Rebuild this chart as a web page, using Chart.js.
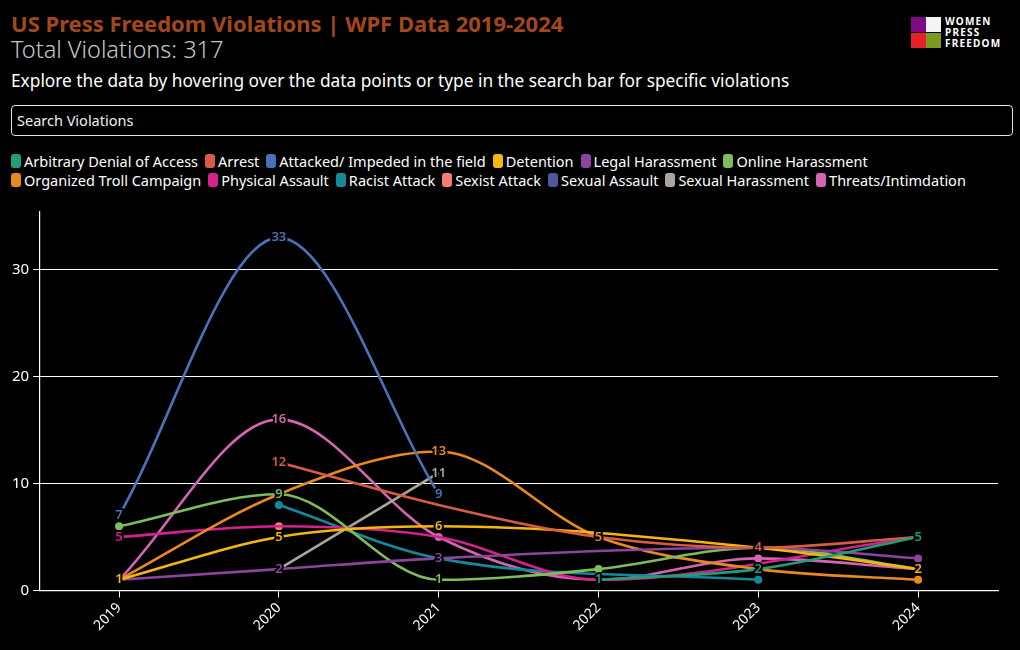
<!DOCTYPE html>
<html>
<head>
<meta charset="utf-8">
<script src="https://cdn.jsdelivr.net/npm/chart.js@4.4.1/dist/chart.umd.min.js"></script>
<style>
  html, body { margin:0; padding:0; background:#000; width:1020px; height:650px; overflow:hidden; font-family:"Noto Sans", sans-serif; }
  #title { position:absolute; left:11px; top:8px; font-size:22px; font-weight:700; color:#a3481c; white-space:nowrap; }
  #total { position:absolute; left:11px; top:33px; font-size:23.5px; font-weight:300; color:#c9c9c9; white-space:nowrap; }
  #explore { position:absolute; left:11px; top:69px; font-size:17.3px; color:#fff; white-space:nowrap; }
  #search { position:absolute; left:11px; top:105px; width:995px; height:29px; border:1.5px solid #e6e6e6; border-radius:4px; color:#f0f0f0; font-size:14.5px; line-height:29px; padding-left:5px; box-sizing:content-box; }
  #legend { position:absolute; left:11px; top:151px; width:1000px; display:flex; flex-wrap:wrap; column-gap:7px; row-gap:0px; }
  .li { display:flex; align-items:center; font-size:14.5px; color:#fff; height:19px; white-space:nowrap; }
  .sw { width:10px; height:14px; border-radius:3px; margin-right:3px; }
  #logo { position:absolute; left:911px; top:17px; }
  .sq { position:absolute; width:15px; height:15px; }
  .lt { position:absolute; left:34px; font-size:10px; font-weight:700; color:#fff; letter-spacing:1.2px; line-height:11px; white-space:nowrap; }
  #wrap { position:absolute; left:0; top:195px; width:1020px; height:455px; }
</style>
</head>
<body>
<div id="title">US Press Freedom Violations | WPF Data 2019-2024</div>
<div id="total">Total Violations: 317</div>
<div id="explore">Explore the data by hovering over the data points or type in the search bar for specific violations</div>
<div id="search">Search Violations</div>
<div id="logo">
  <div class="sq" style="left:0;top:0;background:#7e0b86"></div>
  <div class="sq" style="left:15px;top:0;background:#f4f4f4"></div>
  <div class="sq" style="left:0;top:16px;background:#e8202a"></div>
  <div class="sq" style="left:15px;top:16px;background:#7a9a1c"></div>
  <div class="lt" style="top:-1px">WOMEN</div>
  <div class="lt" style="top:10px">PRESS</div>
  <div class="lt" style="top:21px">FREEDOM</div>
</div>
<div id="legend"></div>
<div id="wrap"><canvas id="c"></canvas></div>
<script>
// ---- data ----
const years = ['2019','2020','2021','2022','2023','2024'];
const seriesNames = ['Arbitrary Denial of Access','Arrest','Attacked/ Impeded in the field','Detention','Legal Harassment','Online Harassment','Organized Troll Campaign','Physical Assault','Racist Attack','Sexist Attack','Sexual Assault','Sexual Harassment','Threats/Intimdation'];
const seriesColors = ['#1f9e78','#d75b45','#4a72b8','#f5b70c','#8d449f','#7dbd5b','#ea891f','#d3218e','#13899a','#f47c73','#5055a0','#a7a89b','#d565b3'];
const arbitraryDenial   = [null, null, null, 1, 2, 5];
const arrest            = [null, 12, 8, 5, 4, 5];
const attackedImpeded   = [7, 33, 9, null, null, null];
const detention         = [1, 5, 6, null, 4, 2];
const legalHarassment   = [1, 2, 3, null, 4, 3];
const onlineHarassment  = [6, 9, 1, 2, 4, 2];
const trollCampaign     = [1, 9, 13, 5, 2, 1];
const physicalAssault   = [5, 6, 5, 1, null, 5];
const racistAttack      = [null, 8, 3, null, 1, null];
const sexistAttack      = [null, 6, null, null, null, null];
const sexualAssault     = [null, null, null, null, null, null];
const sexualHarassment  = [null, 2, 11, null, null, null];
const threats           = [1, 16, 5, 1, 3, 2];
const seriesValues = [arbitraryDenial, arrest, attackedImpeded, detention, legalHarassment, onlineHarassment, trollCampaign, physicalAssault, racistAttack, sexistAttack, sexualAssault, sexualHarassment, threats];
// which points show a value label / a dot (by year index)
const labelled = [[3,4,5],[1,4],[0,1,2],[0,1,2,5],[1,2],[1,2],[2,3],[0],[],[],[],[2],[1]];
const dotted   = [[],[],[],[],[5],[0,3],[5],[],[1,4],[1],[],[],[2,4]];

// legend
const lg = document.getElementById('legend');
seriesNames.forEach((n,i)=>{
  const d = document.createElement('div'); d.className='li';
  d.innerHTML = '<span class="sw" style="background:'+seriesColors[i]+'"></span>'+n;
  lg.appendChild(d);
});

const datasets = seriesNames.map((n,i)=>({
  label:n, data:seriesValues[i], borderColor:seriesColors[i], backgroundColor:seriesColors[i],
  borderWidth:2.6, cubicInterpolationMode:'monotone', spanGaps:true,
  pointRadius:(ctx)=> dotted[i].includes(ctx.dataIndex) ? 4 : 0,
  pointHoverRadius:5, pointBorderWidth:0
}));

const labelPlugin = {
  id:'vlabels',
  afterDatasetsDraw(chart){
    const ctx = chart.ctx;
    ctx.save();
    ctx.font = '600 13px "Noto Sans", sans-serif';
    ctx.textAlign='center'; ctx.textBaseline='middle';
    ctx.lineJoin='round';
    for (let i=seriesNames.length-1;i>=0;i--){
      const meta = chart.getDatasetMeta(i);
      labelled[i].forEach(k=>{
        const v = seriesValues[i][k]; if (v==null) return;
        const p = meta.data[k];
        ctx.strokeStyle='#000'; ctx.lineWidth=4;
        ctx.strokeText(String(v), p.x, p.y);
        ctx.fillStyle=seriesColors[i];
        ctx.fillText(String(v), p.x, p.y);
      });
    }
    ctx.restore();
  }
};

new Chart(document.getElementById('c'), {
  type:'line',
  data:{ labels:years, datasets },
  plugins:[labelPlugin],
  options:{
    responsive:true, maintainAspectRatio:false, animation:false,
    layout:{ padding:{ left:8, right:22, top:17, bottom:14 } },
    plugins:{ legend:{display:false}, tooltip:{enabled:true} },
    scales:{
      x:{
        offset:true,
        grid:{ drawOnChartArea:false, drawTicks:true, tickLength:7, color:'#fff', lineWidth:1 },
        border:{ display:true, color:'#fff', width:1.2 },
        ticks:{ color:'#fff', font:{ family:'"Noto Sans", sans-serif', size:14 }, minRotation:45, maxRotation:45, padding:2 }
      },
      y:{
        min:0, max:35.4,
        grid:{ color:'#fff', lineWidth:1, tickLength:6, drawTicks:true },
        border:{ display:true, color:'#fff', width:1.2 },
        ticks:{ stepSize:10, includeBounds:false, color:'#fff', font:{ family:'"Noto Sans", sans-serif', size:15 }, padding:4 },
        afterBuildTicks(ax){ ax.ticks = ax.ticks.filter(t=> t.value % 10 === 0); }
      }
    }
  }
});
</script>
</body>
</html>
